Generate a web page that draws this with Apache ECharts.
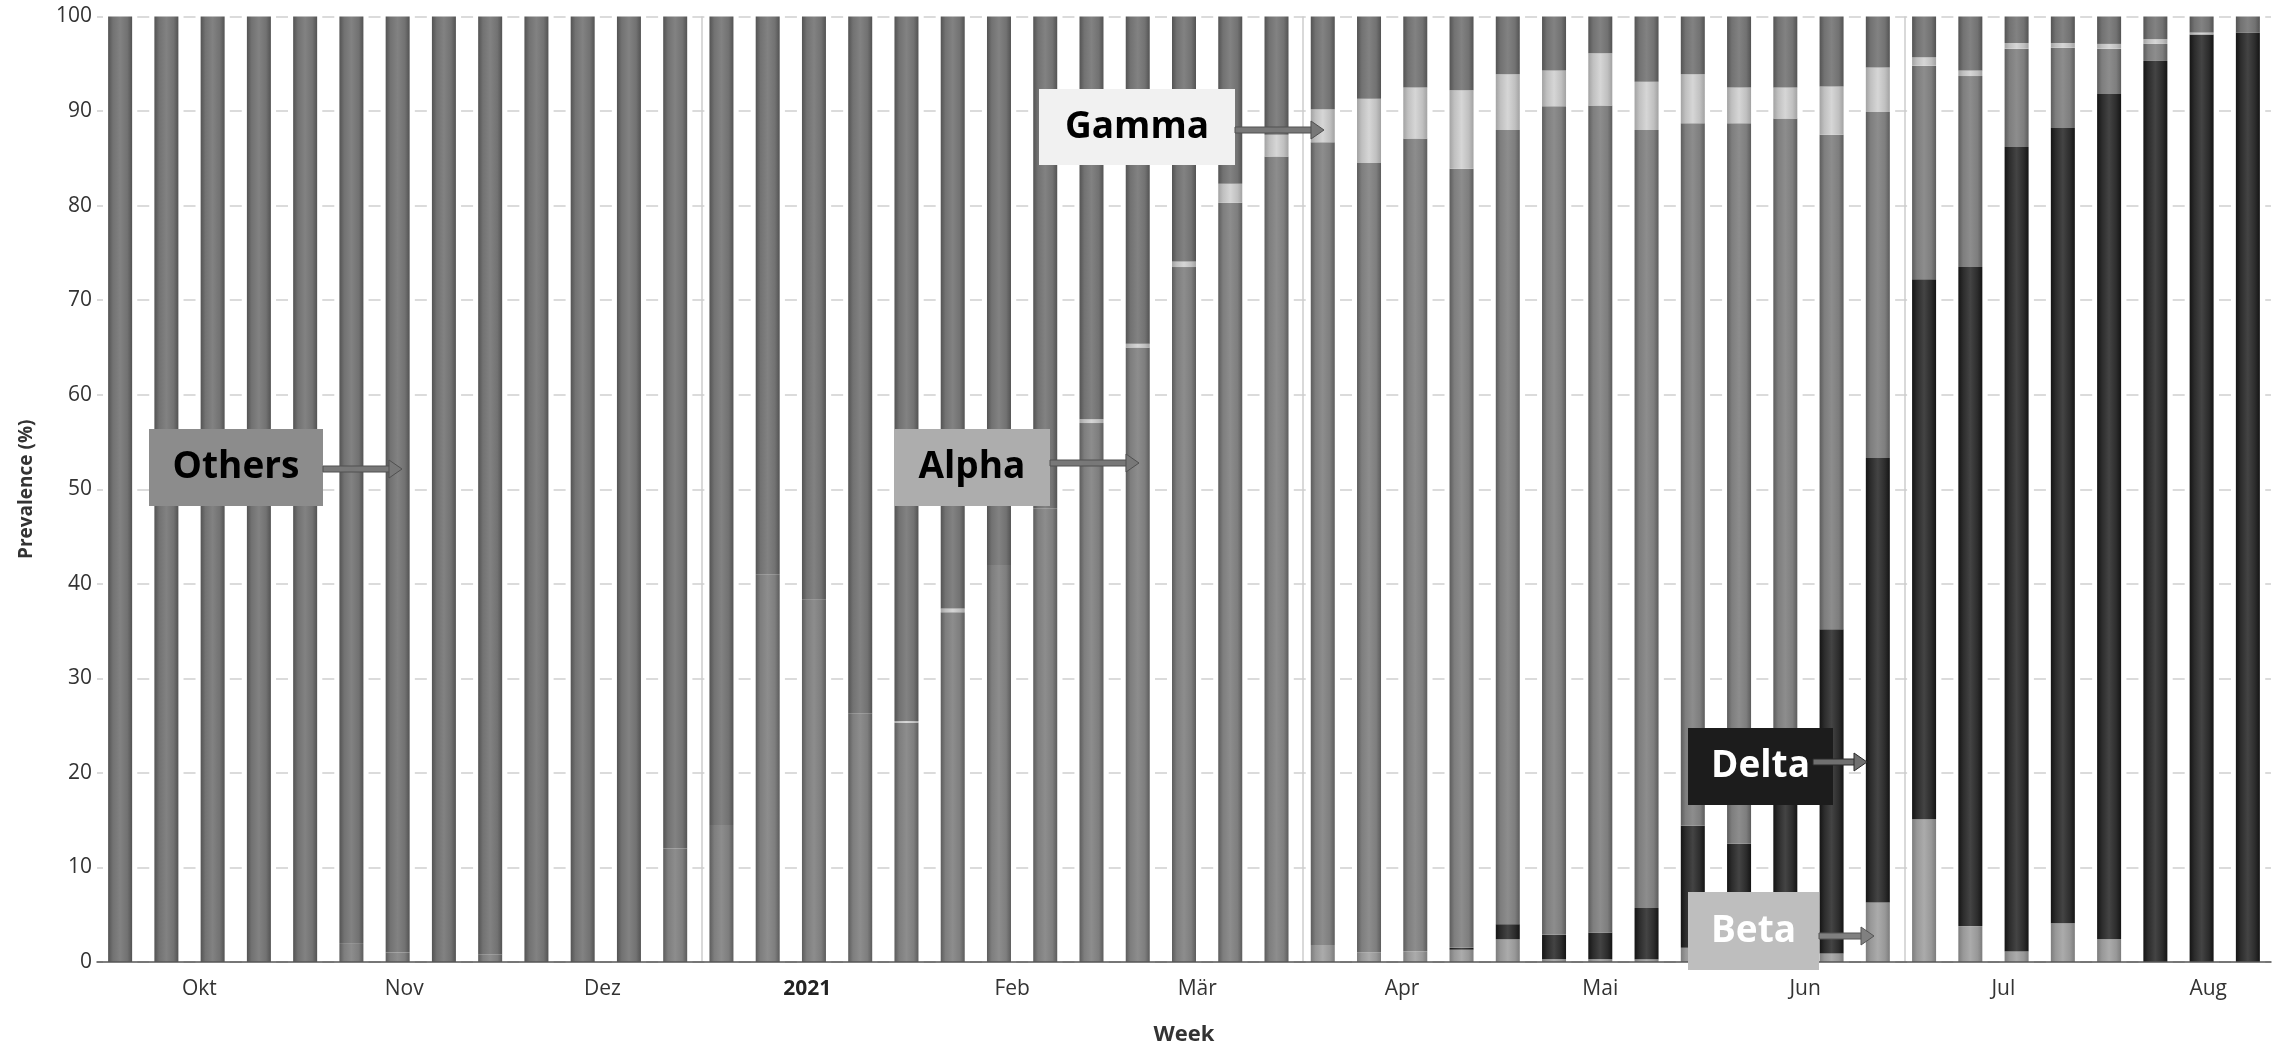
<!DOCTYPE html>
<html><head><meta charset="utf-8">
<script src="https://cdn.jsdelivr.net/npm/echarts@6/dist/echarts.min.js"></script>
<style>html,body{margin:0;padding:0;background:#fff}#c{width:2272px;height:1051px}</style>
</head><body><div id="c"></div>
<script>
// ---------- data ----------
const weeks = ['2020-09-19','2020-09-26','2020-10-03','2020-10-10','2020-10-17','2020-10-24','2020-10-31',
  '2020-11-07','2020-11-14','2020-11-21','2020-11-28','2020-12-05','2020-12-12','2020-12-19','2020-12-26',
  '2021-01-02','2021-01-09','2021-01-16','2021-01-23','2021-01-30','2021-02-06','2021-02-13','2021-02-20',
  '2021-02-27','2021-03-06','2021-03-13','2021-03-20','2021-03-27','2021-04-03','2021-04-10','2021-04-17',
  '2021-04-24','2021-05-01','2021-05-08','2021-05-15','2021-05-22','2021-05-29','2021-06-05','2021-06-12',
  '2021-06-19','2021-06-26','2021-07-03','2021-07-10','2021-07-17','2021-07-24','2021-07-31','2021-08-07'];
const beta   = [0,0,0,0,0,0,0,0,0,0,0,0,0,0,0,0,0,0,0,0,0,0,0,0,0,0,1.8,1.0,1.1,1.3,2.4,0.3,0.3,0.3,1.5,0.5,0.3,0.9,6.3,15.1,3.8,1.1,4.1,2.4,0,0,0];
const delta  = [0,0,0,0,0,0,0,0,0,0,0,0,0,0,0,0,0,0,0,0,0,0,0,0,0,0,0,0,0,0.2,1.6,2.6,2.8,5.4,12.9,12.0,20.7,34.3,47.0,57.1,69.7,85.1,84.1,89.4,95.3,98.1,98.3];
const alpha  = [0,0,0,0,0,2.0,1.0,0,0.8,0,0,0,12.0,14.5,41.0,38.3,26.3,25.3,37.0,42.0,48.0,57.0,65.0,73.5,80.3,85.2,84.9,83.5,86.0,82.4,84.0,87.6,87.5,82.3,74.3,76.2,68.2,52.3,36.6,22.6,20.2,10.4,8.5,4.8,1.8,0,0];
const gamma  = [0,0,0,0,0,0,0,0,0,0,0,0,0,0,0,0,0,0.2,0.4,0,0,0.4,0.4,0.6,2.0,2.3,3.5,6.8,5.4,8.3,5.9,3.8,5.5,5.1,5.2,3.8,3.3,5.1,4.7,0.9,0.6,0.6,0.5,0.5,0.5,0.2,0];
const others = [100,100,100,100,100,98.0,99.0,100,99.2,100,100,100,88.0,85.5,59.0,61.7,73.7,74.5,62.6,58.0,52.0,42.6,34.6,25.9,17.7,12.5,9.8,8.7,7.5,7.8,6.1,5.7,3.9,6.9,6.1,7.5,7.5,7.4,5.4,4.3,5.7,2.8,2.8,2.9,2.4,1.7,1.7];
const monthTicks  = ['2020-10-01','2020-11-01','2020-12-01','2021-01-01','2021-02-01','2021-03-01','2021-04-01','2021-05-01','2021-06-01','2021-07-01','2021-08-01'];
const monthLabels = ['Okt','Nov','Dez','2021','Feb','Mär','Apr','Mai','Jun','Jul','Aug'];
const dividerDates = ['2020-12-16','2021-03-17','2021-06-16'];

// ---------- helpers ----------
function ts(s){const p=s.split('-').map(Number);return Date.UTC(p[0],p[1]-1,p[2]);}
const DAY = 86400000;
const tickVals = monthTicks.map(ts);
function grad(edge, mid, center){
  return new echarts.graphic.LinearGradient(0,0,1,0,[
    {offset:0,color:edge},{offset:0.2,color:mid},{offset:0.5,color:center},{offset:0.8,color:mid},{offset:1,color:edge}]);
}
function ser(name, vals, color, extra){
  return Object.assign({
    name:name, type:'bar', stack:'v', barWidth:24,
    // value first so that stacking happens on the y value
    data: weeks.map((w,i)=>[vals[i], ts(w)]),
    encode:{x:1, y:0},
    itemStyle:{color:color}, emphasis:{disabled:true}
  }, extra||{});
}
const FONT = 'Open Sans';
function box(x,y,w,h,fill,text,tcol){
  return [
    {type:'rect', z:100, shape:{x:x,y:y,width:w,height:h}, style:{fill:fill}},
    {type:'text', z:101, x:x+w/2, y:y+h/2, style:{text:text, fontSize:37, fontWeight:'bold', fontFamily:FONT, fill:tcol, align:'center', verticalAlign:'middle'}}
  ];
}
function arrow(x1,x2,y,fill,stroke){
  return [
    {type:'rect', z:102, shape:{x:x1,y:y-3,width:x2-x1-11,height:6}, style:{fill:fill, stroke:stroke, lineWidth:1}},
    {type:'polygon', z:102, shape:{points:[[x2-13,y-9],[x2,y],[x2-13,y+9]]}, style:{fill:fill, stroke:stroke, lineWidth:1}}
  ];
}

const chart = echarts.init(document.getElementById('c'), null, {renderer:'canvas'});
const option = {
  animation:false,
  backgroundColor:'#ffffff',
  textStyle:{fontFamily:FONT},
  grid:{left:97, right:1, top:16.5, bottom:86, containLabel:false},
  xAxis:{
    type:'value', z:10, scale:true,
    min: ts(weeks[0]) - 3.5*DAY,
    max: ts(weeks[weeks.length-1]) + 3.5*DAY,
    name:'Week', nameLocation:'middle', nameGap:62,
    nameTextStyle:{fontSize:22, fontWeight:'bold', color:'#333', fontFamily:FONT},
    axisLine:{show:true, onZero:false, lineStyle:{color:'#555', width:1.5}},
    axisTick:{show:false},
    splitLine:{show:false},
    axisLabel:{
      customValues: tickVals,
      margin:17, fontSize:21, color:'#333', fontFamily:FONT,
      formatter:function(v){
        let i = -1;
        for (let k=0;k<tickVals.length;k++){ if (Math.abs(tickVals[k]-v) < DAY/2) { i=k; break; } }
        const t = i>=0 ? monthLabels[i] : '';
        return t==='2021' ? '{b|2021}' : t;
      },
      rich:{b:{fontWeight:'bold', fontSize:21, color:'#222', fontFamily:FONT}}
    }
  },
  yAxis:{
    type:'value', min:0, max:100, interval:10,
    name:'Prevalence (%)', nameLocation:'middle', nameGap:61,
    nameTextStyle:{fontSize:19, fontWeight:'bold', color:'#333', fontFamily:FONT},
    axisLine:{show:false}, axisTick:{show:false},
    axisLabel:{fontSize:21, color:'#333', margin:5, fontFamily:FONT},
    splitLine:{show:true, lineStyle:{color:'#cfcfcf', width:1.5, type:[12,34.26], dashOffset:6}}
  },
  series:[
    ser('Beta',  beta,  grad('#7c7c7c','#989898','#ababab')),
    ser('Delta', delta, grad('#141414','#2c2c2c','#444444')),
    ser('Alpha', alpha, grad('#5c5c5c','#7e7e7e','#8d8d8d')),
    ser('Gamma', gamma, grad('#a2a2a2','#c0c0c0','#d6d6d6')),
    ser('Others', others, grad('#535353','#727272','#828282'), {
      markLine:{
        silent:true, symbol:['none','none'], label:{show:false},
        lineStyle:{color:'#cccccc', width:1.5, type:'solid'},
        data: dividerDates.map(d=>({xAxis: ts(d)}))
      }
    })
  ],
  graphic:[].concat(
    box(149,429,174,77,'#8c8c8c','Others','#000'),
    arrow(323,402,469,'#787878','#505050'),
    box(894,429,156,77,'#adadad','Alpha','#000'),
    arrow(1050,1139,463,'#787878','#505050'),
    box(1039,89,196,76,'#f1f1f1','Gamma','#000'),
    arrow(1235,1324,130,'#787878','#505050'),
    box(1688,728,145,77,'#1c1c1c','Delta','#fff'),
    arrow(1813,1867,762,'#707070','#2a2a2a'),
    box(1688,892,131,78,'#bebebe','Beta','#fff'),
    arrow(1819,1874,936,'#808080','#555555')
  )
};
chart.setOption(option);
</script>
</body></html>
